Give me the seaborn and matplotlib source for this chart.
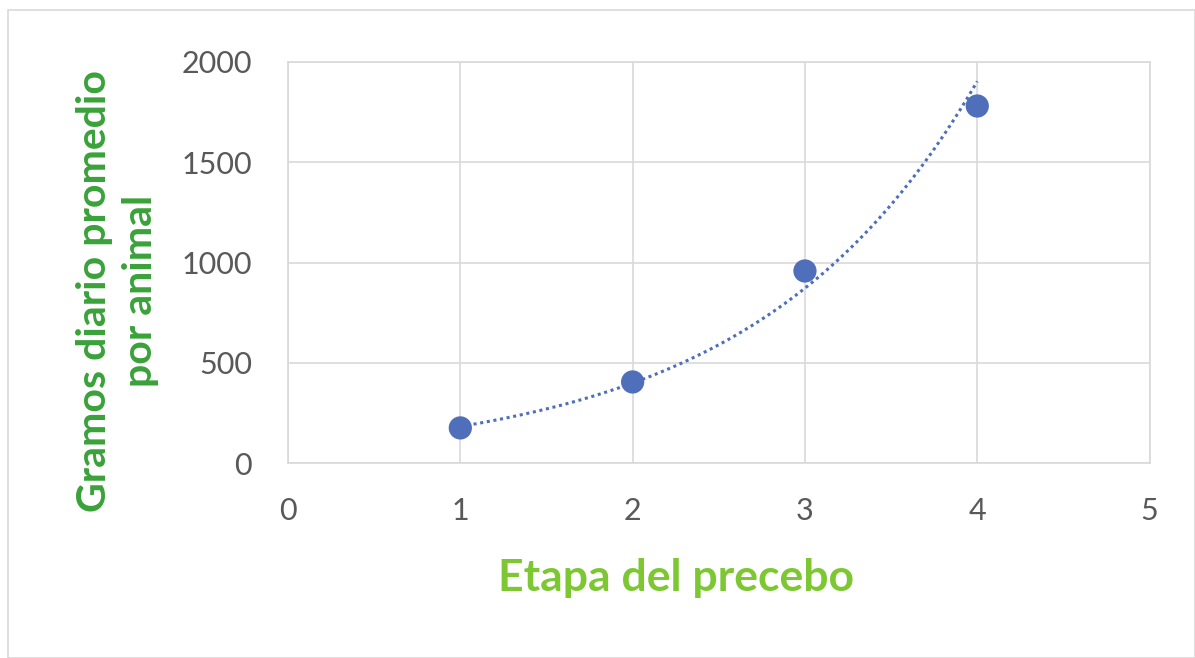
import numpy as np
import pandas as pd
import matplotlib
matplotlib.use('Agg')
import matplotlib.pyplot as plt
import seaborn as sns

# data
etapa = [1, 2, 3, 4]
gramos = [176, 405, 958, 1780]
x_ticks = [0, 1, 2, 3, 4, 5]
y_ticks = [0, 500, 1000, 1500, 2000]

df = pd.DataFrame({'etapa': etapa, 'gramos': gramos})

# exponential trendline (least squares on log values), as in the spreadsheet
b, a = np.polyfit(df['etapa'], np.log(df['gramos']), 1)
tx = np.linspace(min(etapa), max(etapa), 100)
trend = pd.DataFrame({'etapa': tx, 'gramos': np.exp(a) * np.exp(b * tx)})

sns.set_style('white')
plt.rcParams['font.family'] = ['Lato', 'DejaVu Sans']

fig = plt.figure(figsize=(11.95, 6.58), dpi=100)
ax = fig.add_axes([0.241, 0.296, 0.721, 0.61])

blue = '#4f6fbb'
sns.lineplot(data=trend, x='etapa', y='gramos', ax=ax, color=blue,
             linestyle=(0, (1, 1.2)), linewidth=2.2, zorder=2)
sns.scatterplot(data=df, x='etapa', y='gramos', ax=ax, color=blue,
                s=280, edgecolor='none', zorder=3)

ax.set_xlim(0, 5)
ax.set_ylim(0, 2000)
ax.set_xticks(x_ticks)
ax.set_yticks(y_ticks)
ax.grid(True, color='#d9d9d9', linewidth=1.2)
ax.set_axisbelow(True)
for s in ax.spines.values():
    s.set_color('#d9d9d9')
    s.set_linewidth(1.2)
ax.tick_params(axis='both', length=0, labelsize=22, labelcolor='#595959')
ax.tick_params(axis='x', pad=24)
ax.tick_params(axis='y', pad=26)

ax.set_xlabel('Etapa del precebo', fontsize=32, fontweight='bold',
              color='#7dc733')
ax.xaxis.set_label_coords(0.45, -0.235)
ax.set_ylabel('Gramos diario promedio\npor animal', fontsize=29.5,
              fontweight='bold', color='#3aa23a', linespacing=1.3)
ax.yaxis.set_label_coords(-0.150, 0.43)

# thin frame round the whole chart area
fig.patches.append(plt.Rectangle((0.007, 0.0), 0.993, 0.985,
                                 transform=fig.transFigure, fill=False,
                                 edgecolor='#d9d9d9', linewidth=1.2))

fig.savefig('out.png', dpi=100, facecolor='white')
